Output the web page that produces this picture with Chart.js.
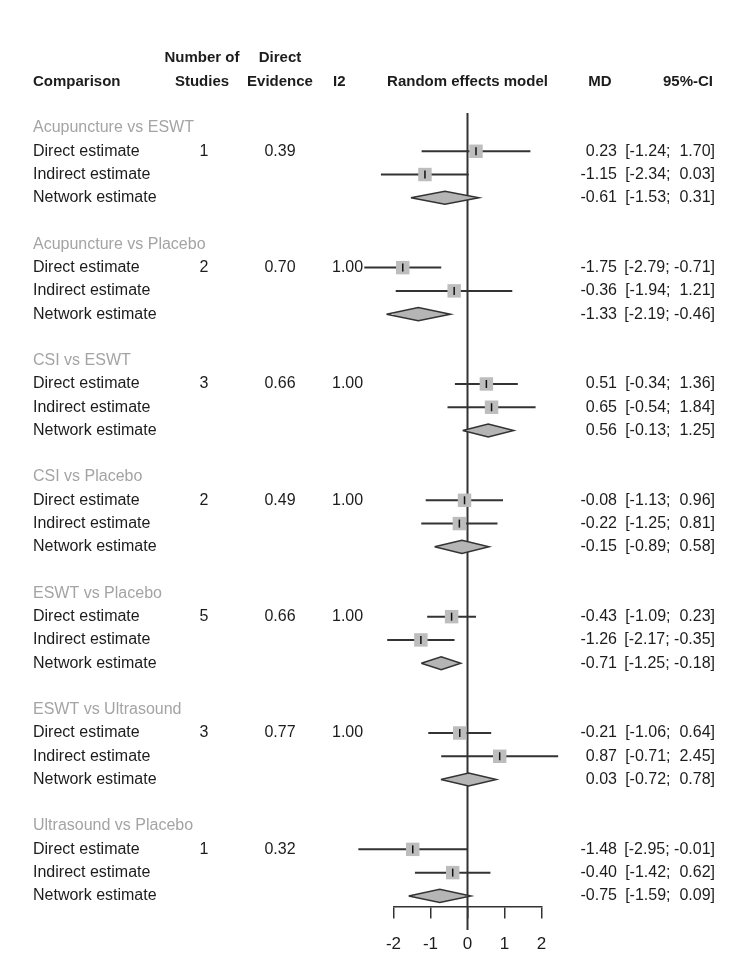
<!DOCTYPE html>
<html>
<head>
<meta charset="utf-8">
<title>Network meta-analysis forest plot</title>
<script src="https://cdn.jsdelivr.net/npm/chart.js@4.4.1/dist/chart.umd.min.js"></script>
<style>
  html, body { margin: 0; padding: 0; background: #fff; }
  #wrap { width: 750px; height: 975px; }
</style>
</head>
<body>
<div id="wrap"><canvas id="forest" width="750" height="975"></canvas></div>
<script>
// Comparisons and table columns
const comparisons = [
  "Acupuncture vs ESWT",
  "Acupuncture vs Placebo",
  "CSI vs ESWT",
  "CSI vs Placebo",
  "ESWT vs Placebo",
  "ESWT vs Ultrasound",
  "Ultrasound vs Placebo"
];
const estimateLabels = ["Direct estimate", "Indirect estimate", "Network estimate"];
const numStudies = [1, 2, 3, 2, 5, 3, 1];
const directEvidence = [0.39, 0.70, 0.66, 0.49, 0.66, 0.77, 0.32];
const i2Values = [null, 1.00, 1.00, 1.00, 1.00, 1.00, null];

// Mean differences with 95% CI
const directMD = [0.23, -1.75, 0.51, -0.08, -0.43, -0.21, -1.48];
const directLower = [-1.24, -2.79, -0.34, -1.13, -1.09, -1.06, -2.95];
const directUpper = [1.70, -0.71, 1.36, 0.96, 0.23, 0.64, -0.01];

const indirectMD = [-1.15, -0.36, 0.65, -0.22, -1.26, 0.87, -0.40];
const indirectLower = [-2.34, -1.94, -0.54, -1.25, -2.17, -0.71, -1.42];
const indirectUpper = [0.03, 1.21, 1.84, 0.81, -0.35, 2.45, 0.62];

const networkMD = [-0.61, -1.33, 0.56, -0.15, -0.71, 0.03, -0.75];
const networkLower = [-1.53, -2.19, -0.13, -0.89, -1.25, -0.72, -1.59];
const networkUpper = [0.31, -0.46, 1.25, 0.58, -0.18, 0.78, 0.09];

const xTickValues = [-2, -1, 0, 1, 2];

// ---- layout / style ----
const FONT = '"Liberation Sans", Arial, sans-serif';
const TEXT = "#1c1c1c";
const GREY_TITLE = "#a4a4a4";
const LINE = "#333333";
const BOX = "#bdbdbd";
const DIAMOND_FILL = "#b5b5b5";
const DIAMOND_HALF = 0.28; // rows
const AXIS_ROW = 33.48;
const REF_FROM = -0.645;
const REF_TO = 34.47;

const titleRow = (g) => g * 5;
const estRow = (g, k) => g * 5 + 1 + k;

const estimates = [
  { md: directMD, lo: directLower, hi: directUpper },
  { md: indirectMD, lo: indirectLower, hi: indirectUpper },
  { md: networkMD, lo: networkLower, hi: networkUpper }
];

const datasets = [];

// reference line at 0
datasets.push({
  type: "line",
  data: [{ x: 0, y: REF_FROM }, { x: 0, y: REF_TO }],
  borderColor: LINE,
  borderWidth: 2,
  pointRadius: 0,
  clip: false,
  order: 5
});

// confidence interval lines for direct / indirect
const boxPoints = [];
comparisons.forEach((c, g) => {
  [0, 1].forEach((k) => {
    const e = estimates[k];
    const r = estRow(g, k);
    datasets.push({
      type: "line",
      data: [{ x: e.lo[g], y: r }, { x: e.hi[g], y: r }],
      borderColor: LINE,
      borderWidth: 2,
      pointRadius: 0,
      clip: false,
      order: 4
    });
    boxPoints.push({ x: e.md[g], y: r });
  });

  // network diamond
  const r = estRow(g, 2);
  datasets.push({
    type: "line",
    data: [
      { x: networkLower[g], y: r },
      { x: networkMD[g], y: r - DIAMOND_HALF },
      { x: networkUpper[g], y: r },
      { x: networkMD[g], y: r + DIAMOND_HALF },
      { x: networkLower[g], y: r }
    ],
    borderColor: LINE,
    borderWidth: 1.5,
    backgroundColor: DIAMOND_FILL,
    fill: "shape",
    tension: 0,
    pointRadius: 0,
    clip: false,
    order: 3
  });
});

// grey squares
datasets.push({
  type: "scatter",
  data: boxPoints,
  pointStyle: "rect",
  pointRadius: 9.5,
  backgroundColor: BOX,
  borderWidth: 0,
  clip: false,
  order: 2
});

// small black tick at point estimate
datasets.push({
  type: "scatter",
  data: boxPoints,
  pointStyle: "line",
  rotation: 90,
  pointRadius: 4,
  borderColor: "#111",
  borderWidth: 1.5,
  clip: false,
  order: 1
});

function fmt(v) {
  return v.toFixed(2);
}
function padNum(v) {
  return v < 0 ? v.toFixed(2) : " " + v.toFixed(2);
}

// text columns of the table
const tablePlugin = {
  id: "forestTable",
  afterDraw(chart) {
    const ctx = chart.ctx;
    const y = chart.scales.y;
    const x = chart.scales.x;
    ctx.save();
    ctx.textBaseline = "middle";

    // header
    ctx.fillStyle = TEXT;
    ctx.font = "bold 15px " + FONT;
    const h1 = y.getPixelForValue(-3);
    const h2 = y.getPixelForValue(-2);
    ctx.textAlign = "left";
    ctx.fillText("Comparison", 33, h2);
    ctx.fillText("I2", 333, h2);
    ctx.textAlign = "center";
    ctx.fillText("Number of", 202, h1);
    ctx.fillText("Studies", 202, h2);
    ctx.fillText("Direct", 280, h1);
    ctx.fillText("Evidence", 280, h2);
    ctx.fillText("Random effects model", x.getPixelForValue(0), h2);
    ctx.fillText("MD", 600, h2);
    ctx.textAlign = "right";
    ctx.fillText("95%-CI", 713, h2);

    comparisons.forEach((c, g) => {
      ctx.font = "16px " + FONT;
      ctx.fillStyle = GREY_TITLE;
      ctx.textAlign = "left";
      ctx.fillText(c, 33, y.getPixelForValue(titleRow(g)));

      ctx.fillStyle = TEXT;
      estimates.forEach((e, k) => {
        const py = y.getPixelForValue(estRow(g, k));
        ctx.textAlign = "left";
        ctx.fillText(estimateLabels[k], 33, py);
        ctx.textAlign = "right";
        ctx.fillText(fmt(e.md[g]), 617, py);
        ctx.fillText("[" + padNum(e.lo[g]) + "; " + padNum(e.hi[g]) + "]", 715, py);
      });

      const pd = y.getPixelForValue(estRow(g, 0));
      ctx.textAlign = "center";
      ctx.fillText(String(numStudies[g]), 204, pd);
      ctx.fillText(fmt(directEvidence[g]), 280, pd);
      if (i2Values[g] !== null) {
        ctx.textAlign = "left";
        ctx.fillText(fmt(i2Values[g]), 332, pd);
      }
    });
    ctx.restore();
  }
};

new Chart(document.getElementById("forest"), {
  data: { datasets: datasets },
  options: {
    responsive: false,
    animation: false,
    events: [],
    layout: { padding: { left: 393.5, right: 208.5, top: 20, bottom: 20 } },
    plugins: {
      legend: { display: false },
      tooltip: { enabled: false }
    },
    scales: {
      x: {
        type: "linear",
        min: -2,
        max: 2,
        position: { y: AXIS_ROW },
        afterBuildTicks: (scale) => {
          scale.ticks = xTickValues.map((v) => ({ value: v }));
        },
        grid: {
          drawOnChartArea: false,
          drawTicks: true,
          tickLength: 11,
          color: LINE,
          lineWidth: 1.5
        },
        border: { display: true, color: LINE, width: 1.5 },
        ticks: {
          padding: 16,
          color: TEXT,
          font: { family: FONT, size: 17 }
        }
      },
      y: {
        type: "linear",
        display: false,
        reverse: true,
        min: -4.641,
        max: 35.54
      }
    }
  },
  plugins: [tablePlugin]
});
</script>
</body>
</html>
